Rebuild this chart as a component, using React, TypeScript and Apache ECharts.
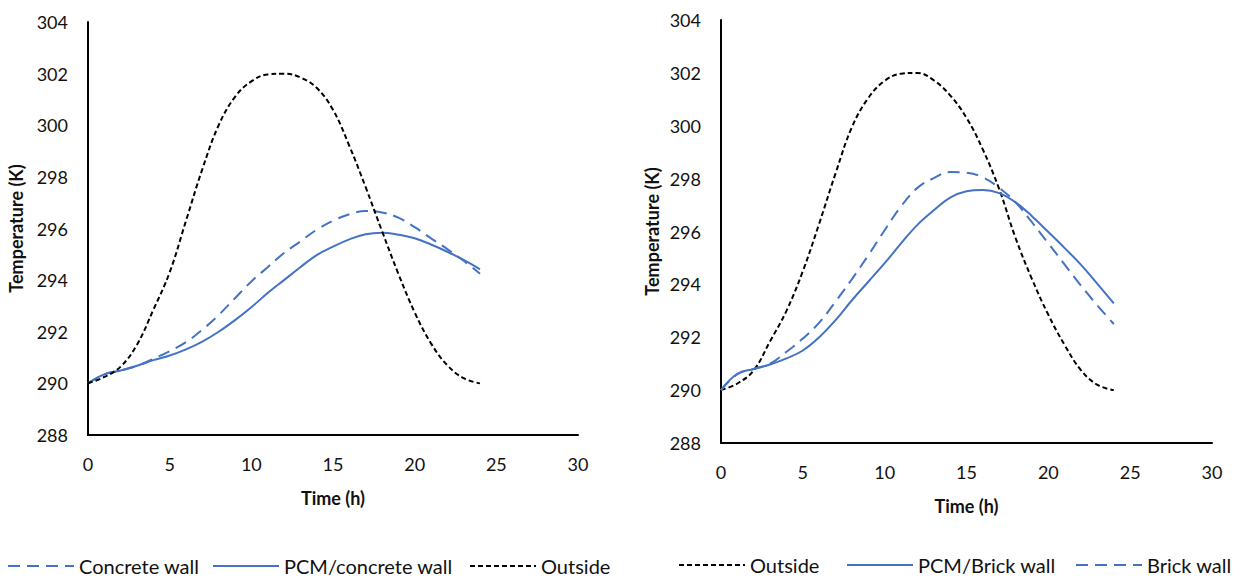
import React, { useEffect, useRef } from "react";
import * as echarts from "echarts";

// Time (h)
const hours = [0, 1, 2, 3, 4, 5, 6, 7, 8, 9, 10, 11, 12, 13, 14, 15, 16, 17, 18, 19, 20, 21, 22, 23, 24];

// Left chart (K)
const leftOutside = [290.0, 290.25, 290.65, 291.5, 292.85, 294.3, 296.3, 298.3, 300.0, 301.1, 301.7, 301.97, 302.0, 301.85, 301.45, 300.6, 299.2, 297.6, 295.9, 294.25, 292.75, 291.55, 290.7, 290.2, 290.0];
const concreteWall = [290.0, 290.35, 290.5, 290.68, 290.95, 291.25, 291.6, 292.08, 292.65, 293.3, 293.95, 294.5, 295.05, 295.5, 295.95, 296.3, 296.55, 296.68, 296.62, 296.42, 296.05, 295.62, 295.2, 294.75, 294.25];
const pcmConcreteWall = [290.0, 290.35, 290.5, 290.68, 290.9, 291.08, 291.32, 291.62, 292.0, 292.45, 292.95, 293.5, 294.0, 294.5, 294.97, 295.3, 295.58, 295.78, 295.84, 295.76, 295.62, 295.38, 295.1, 294.78, 294.42];

// Right chart (K)
const rightOutside = [290.0, 290.25, 290.75, 291.85, 293.0, 294.5, 296.3, 298.2, 299.95, 301.05, 301.7, 301.97, 302.0, 301.72, 301.15, 300.3, 299.1, 297.6, 295.75, 294.2, 292.85, 291.7, 290.75, 290.2, 290.0];
const pcmBrickWall = [290.0, 290.62, 290.8, 290.97, 291.2, 291.5, 292.0, 292.65, 293.4, 294.1, 294.8, 295.55, 296.25, 296.8, 297.28, 297.52, 297.57, 297.45, 297.1, 296.58, 295.98, 295.37, 294.74, 294.02, 293.28];
const brickWall = [290.0, 290.6, 290.8, 291.0, 291.45, 291.95, 292.55, 293.35, 294.2, 295.1, 296.05, 296.95, 297.65, 298.02, 298.25, 298.22, 298.05, 297.65, 297.1, 296.35, 295.55, 294.75, 293.95, 293.2, 292.5];

// Axes
const yMin = 288;
const yMax = 304;
const yStep = 2;
const xMin = 0;
const xMax = 30;
const xStep = 5;

const BLUE = "#4472C4";
const FONT = "Lato, 'Open Sans', sans-serif";

const pairs = (arr: number[]) => hours.map((h, i) => [h, arr[i]]);

export default function App() {
  const ref = useRef<HTMLDivElement>(null);
  useEffect(() => {
    document.body.style.margin = "0";
    const chart = echarts.init(ref.current!, undefined, { renderer: "svg" });

    const xAxisBase = (gridIndex: number, nameGap: number) => ({
      type: "value",
      gridIndex,
      min: xMin,
      max: xMax,
      interval: xStep,
      name: "Time (h)",
      nameLocation: "middle",
      nameGap,
      nameTextStyle: { fontFamily: FONT, fontSize: 18, fontWeight: "bold", color: "#111" },
      axisLine: { show: true, lineStyle: { color: "#000", width: 2 } },
      axisTick: { show: false },
      splitLine: { show: false },
      axisLabel: { fontFamily: FONT, fontSize: 18, color: "#111", margin: 20 },
    });
    const yAxisBase = (gridIndex: number, nameGap: number) => ({
      type: "value",
      gridIndex,
      min: yMin,
      max: yMax,
      interval: yStep,
      name: "Temperature (K)",
      nameLocation: "middle",
      nameGap,
      nameTextStyle: { fontFamily: FONT, fontSize: 18, fontWeight: "bold", color: "#111" },
      axisLine: { show: true, lineStyle: { color: "#000", width: 2 } },
      axisTick: { show: false },
      splitLine: { show: false },
      axisLabel: { fontFamily: FONT, fontSize: 18, color: "#111", margin: 20 },
    });

    const lineSeries = (name: string, data: number[], idx: number, color: string, type: any) => ({
      name,
      type: "line",
      xAxisIndex: idx,
      yAxisIndex: idx,
      data: pairs(data),
      smooth: 0.4,
      symbol: "none",
      lineStyle: { color, width: 2, type },
      itemStyle: { color },
    });

    const legendItem = (name: string, left: number, top: number) => ({
      data: [name],
      left,
      top,
      itemWidth: 66,
      itemHeight: 12,
      itemGap: 0,
      itemStyle: { opacity: 0 },
      textStyle: { fontFamily: FONT, fontSize: 20, color: "#111" },
      selectedMode: false,
    });

    chart.setOption({
      animation: false,
      grid: [
        { left: 88, top: 22, width: 490, height: 413 },
        { left: 721, top: 20, width: 491, height: 423 },
      ],
      xAxis: [xAxisBase(0, 54), xAxisBase(1, 54)],
      yAxis: [yAxisBase(0, 63), yAxisBase(1, 60)],
      legend: [
        legendItem("Concrete wall", 2, 551),
        legendItem("PCM/concrete wall", 207, 551),
        legendItem("Outside", 464, 551),
        legendItem("Outside ", 673, 550),
        legendItem("PCM/Brick wall", 841, 550),
        legendItem("Brick wall", 1070, 550),
      ],
      series: [
        lineSeries("Concrete wall", concreteWall, 0, BLUE, [12, 7]),
        lineSeries("PCM/concrete wall", pcmConcreteWall, 0, BLUE, "solid"),
        lineSeries("Outside", leftOutside, 0, "#000", [5, 3]),
        lineSeries("Outside ", rightOutside, 1, "#000", [5, 3]),
        lineSeries("PCM/Brick wall", pcmBrickWall, 1, BLUE, "solid"),
        lineSeries("Brick wall", brickWall, 1, BLUE, [12, 7]),
      ],
    });
    return () => chart.dispose();
  }, []);
  return <div ref={ref} style={{ width: 1237, height: 578 }} />;
}
